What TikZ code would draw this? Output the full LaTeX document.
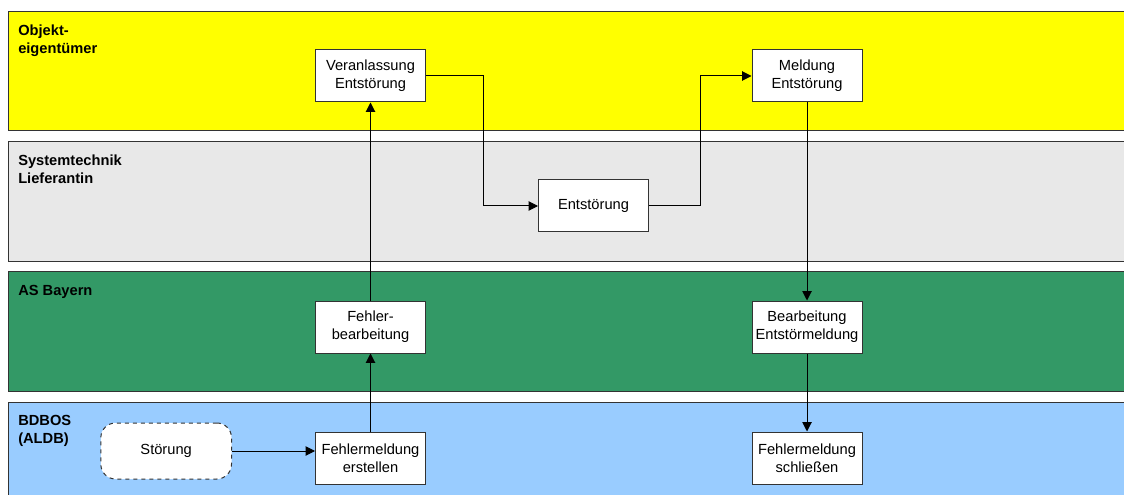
\documentclass[tikz,border=0pt]{standalone}
\usepackage{fontspec}
\setmainfont{Liberation Sans}
\usetikzlibrary{positioning, arrows.meta}
\usetikzlibrary{calc}

\definecolor{laneyellow}{HTML}{FFFF00}
\definecolor{lanegray}{HTML}{E8E8E8}
\definecolor{lanegreen}{HTML}{339966}
\definecolor{laneblue}{HTML}{99CCFF}
\definecolor{laneline}{HTML}{333333}

\begin{document}
\begin{tikzpicture}[
    x=0.75pt, y=-0.75pt,
    node distance=58.5pt and 62.25pt,
    lane/.style={draw=laneline, line width=0.75pt},
    lanelabel/.style={anchor=north west, inner sep=0pt, align=left, font=\fontsize{11}{13.5}\selectfont\bfseries},
    task/.style={rectangle, draw=laneline, fill=white, line width=0.75pt, minimum width=82.5pt, minimum height=39pt, inner sep=1pt, align=center, font=\fontsize{11}{13.5}\selectfont},
    event/.style={task, rounded corners=11pt, dashed, minimum width=98pt, minimum height=42pt},
    arrow/.style={-{Triangle[length=7pt, width=7pt]}, line width=0.75pt}
  ]
    \useasboundingbox (0,0) rectangle (1124,495);

    % Swimlanes
    \fill[white] (0,0) rectangle (1124,495);
    \draw[lane, fill=laneyellow] (8,12) rectangle (1132,131);
    \draw[lane, fill=lanegray] (8,142) rectangle (1132,262);
    \draw[lane, fill=lanegreen] (8,272) rectangle (1132,391);
    \draw[lane, fill=laneblue] (8,402) rectangle (1132,500);

    \node[lanelabel] (owner) at (18,25) {Objekt-\\eigentümer};
    \node[lanelabel] (supplier) at (18,155) {Systemtechnik\\Lieferantin};
    \node[lanelabel] (asb) at (18,285) {AS Bayern};
    \node[lanelabel] (bdbos) at (18,415) {BDBOS\\(ALDB)};

    % Tasks
    \node[task] (veranl) at (370.5,76) {Veranlassung\\Entstörung};
    \node[task, below=148.5pt of veranl] (fehlerbearb) {Fehler-\\bearbeitung};
    \node[task, below=of fehlerbearb] (erstellen) {Fehlermeldung\\erstellen};
    \node[event, left=of erstellen, yshift=5.25pt] (stoerung) {Störung};

    \node[task] (entst) at (593.5,206) {Entstörung};

    \node[task] (meldung) at (807,76) {Meldung\\Entstörung};
    \node[task, below=148.5pt of meldung] (bearb) {Bearbeitung\\Entstörmeldung};
    \node[task, below=of bearb] (schliessen) {Fehlermeldung\\schließen};

    % Connections
    \draw[arrow] (stoerung.east) -- (stoerung.east -| erstellen.west);
    \draw[arrow] (erstellen.north) -- (fehlerbearb.south);
    \draw[arrow] (fehlerbearb.north) -- (veranl.south);
    \draw[arrow] (veranl.east) -- ++(57,0) coordinate (down) |- (entst.west);
    \draw[arrow] (entst.east) -- ++(51,0) coordinate (up) |- (meldung.west);
    \draw[arrow] (meldung.south) -- (bearb.north);
    \draw[arrow] (bearb.south) -- (schliessen.north);
  \end{tikzpicture}
\end{document}
